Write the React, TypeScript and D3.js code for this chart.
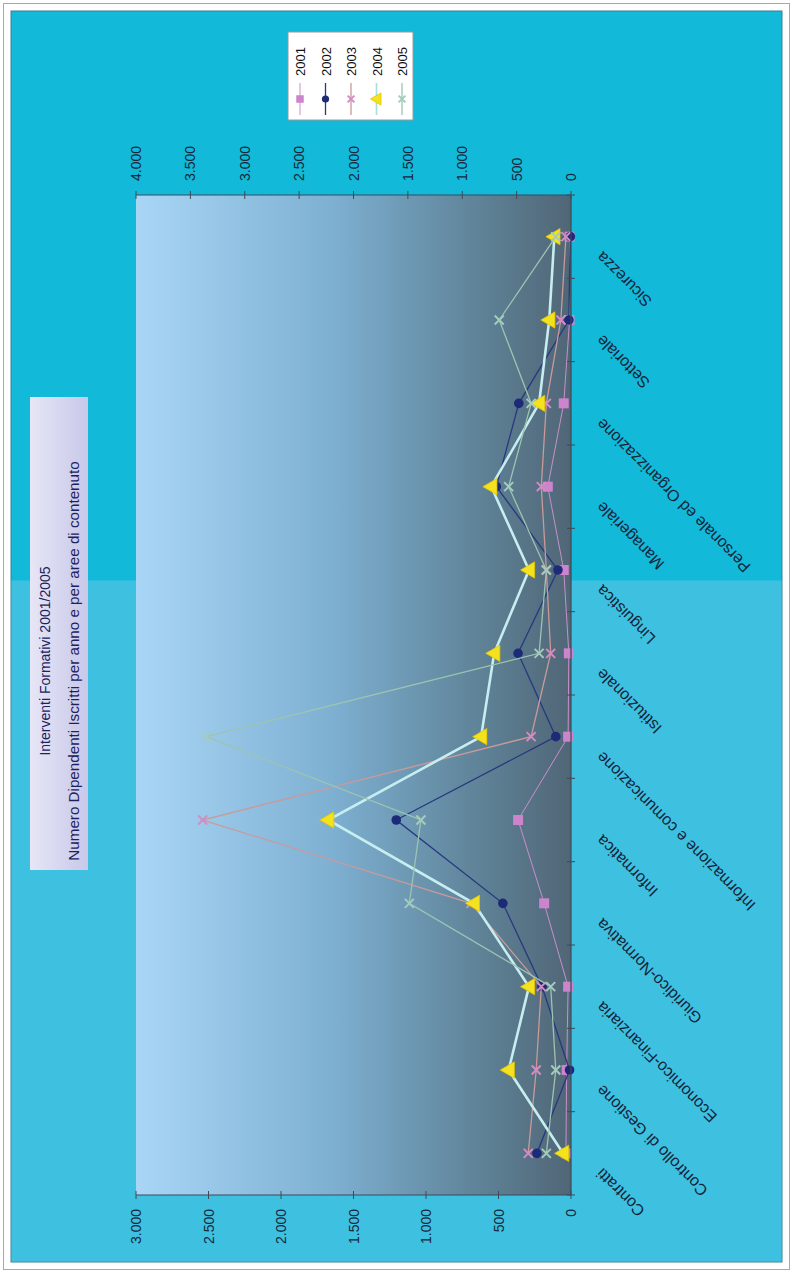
import React from "react";
import * as d3 from "d3";

// categories (original x axis) and series
const categories = [
  "Contratti",
  "Controllo di Gestione",
  "Economico-Finanziaria",
  "Giuridico-Normativa",
  "Informatica",
  "Informazione e comunicazione",
  "Istituzionale",
  "Linguistica",
  "Manageriale",
  "Personale ed Organizzazione",
  "Settoriale",
  "Sicurezza",
];
const years = ["2001", "2002", "2003", "2004", "2005"];
const v2001 = [35, 30, 20, 185, 365, 20, 15, 50, 160, 50, 10, 10];
const v2002 = [235, 10, 200, 470, 1205, 105, 365, 90, 515, 360, 15, 5];
const v2003 = [295, 240, 205, 690, 2540, 275, 140, 170, 205, 170, 70, 35];
const v2004 = [55, 430, 290, 670, 1675, 620, 530, 290, 550, 220, 150, 115];
const v2005 = [170, 105, 140, 1115, 1035, 2515, 220, 170, 430, 275, 495, 105];
const primaryTicks = [0, 500, 1000, 1500, 2000, 2500, 3000];
const secondaryTicks = [0, 500, 1000, 1500, 2000, 2500, 3000, 3500, 4000];

const title = "Interventi Formativi 2001/2005";
const subtitle = "Numero Dipendenti Iscritti per anno e per aree di contenuto";

// chart is drawn in its own frame, then turned a quarter to the left
const W = 1273;
const H = 793;
const plot = { left: 78, right: 1078, top: 136, bottom: 571 };
const font = "'Liberation Sans', Arial, sans-serif";

const itFmt = d3.formatLocale({ decimal: ",", thousands: ".", grouping: [3], currency: ["€", ""] }).format(",");

const styles: Record<string, { line: string; lw: number; fill: string; marker: string }> = {
  "2001": { line: "#c890c8", lw: 1, fill: "#cc84cc", marker: "square" },
  "2002": { line: "#27387e", lw: 1.3, fill: "#1c2a78", marker: "dot" },
  "2003": { line: "#c99a9a", lw: 1.3, fill: "#d48cc4", marker: "x" },
  "2004": { line: "#c6eef0", lw: 2.6, fill: "#f4e21e", marker: "triangle" },
  "2005": { line: "#9cc4b2", lw: 1.3, fill: "#a4ccbc", marker: "x" },
};

function Marker({ kind, cx, cy, fill, s = 1 }: { kind: string; cx: number; cy: number; fill: string; s?: number }) {
  if (kind === "square") return <rect x={cx - 5 * s} y={cy - 5 * s} width={10 * s} height={10 * s} fill={fill} />;
  if (kind === "dot") return <circle cx={cx} cy={cy} r={4.8 * s} fill={fill} />;
  if (kind === "triangle")
    return (
      <path
        d={d3.symbol(d3.symbolTriangle, 115 * s * s)() || ""}
        transform={`translate(${cx},${cy + 1})`}
        fill={fill}
        stroke="#e3c400"
        strokeWidth={0.8}
      />
    );
  const r = 4.5 * s;
  return (
    <path
      d={`M${cx - r},${cy - r}L${cx + r},${cy + r}M${cx - r},${cy + r}L${cx + r},${cy - r}`}
      stroke={fill}
      strokeWidth={2}
      fill="none"
    />
  );
}

export default function App() {
  const series = [v2001, v2002, v2003, v2004, v2005];
  const x = d3.scalePoint<string>().domain(categories).range([plot.left, plot.right]).padding(0.5);
  const y = d3.scaleLinear().domain([0, 3000]).range([plot.bottom, plot.top]);
  const y2 = d3.scaleLinear().domain([0, 4000]).range([plot.bottom, plot.top]);
  const step = x.step();
  const line = d3
    .line<number>()
    .x((_, i) => x(categories[i]) as number)
    .y((d) => y(d));

  return (
    <svg width={793} height={1273} style={{ position: "absolute", left: 0, top: 0 }} fontFamily={font}>
      <defs>
        <linearGradient id="plotGrad" x1="0" y1="0" x2="0" y2="1">
          <stop offset="0" stopColor="#a9d6f6" />
          <stop offset="0.45" stopColor="#7eb0d2" />
          <stop offset="0.75" stopColor="#62889e" />
          <stop offset="1" stopColor="#506676" />
        </linearGradient>
        <linearGradient id="titleGrad" x1="0" y1="0" x2="0" y2="1">
          <stop offset="0" stopColor="#e6e6f6" />
          <stop offset="1" stopColor="#c8c8ea" />
        </linearGradient>
      </defs>
      <rect x={0} y={0} width={793} height={1273} fill="#ffffff" />
      <rect x={3.5} y={3.5} width={786} height={1266} fill="#ffffff" stroke="#a8a8a8" />
      <g transform={`translate(0,${W}) rotate(-90)`}>
        {/* chart background, two tones */}
        <rect x={11} y={11} width={W - 22} height={H - 22} fill="#12b9d8" stroke="#3a7f94" />
        <rect x={11.5} y={11.5} width={681} height={H - 23} fill="#3ec1e0" />

        {/* plot area */}
        <rect x={plot.left} y={plot.top} width={plot.right - plot.left} height={plot.bottom - plot.top} fill="url(#plotGrad)" />

        {/* title */}
        <rect x={403} y={30} width={473} height={58} fill="url(#titleGrad)" />
        <text x={612} y={50} textAnchor="middle" fontSize={14} fill="#1c2260">{title}</text>
        <text x={612} y={79} textAnchor="middle" fontSize={15.2} fill="#1c2260">{subtitle}</text>

        {/* series */}
        {series.map((vals, si) => {
          const st = styles[years[si]];
          return (
            <g key={years[si]}>
              <path d={line(vals) || ""} fill="none" stroke={st.line} strokeWidth={st.lw} />
              {vals.map((v, i) => (
                <Marker key={i} kind={st.marker} cx={x(categories[i]) as number} cy={y(v)} fill={st.fill} />
              ))}
            </g>
          );
        })}

        {/* category axis */}
        <line x1={plot.left} x2={plot.right} y1={plot.bottom} y2={plot.bottom} stroke="#3c4a58" strokeWidth={1.2} />
        {d3.range(categories.length + 1).map((i) => (
          <line key={i} x1={plot.left + i * step} x2={plot.left + i * step} y1={plot.bottom - 4} y2={plot.bottom + 4} stroke="#3c4a58" />
        ))}
        {categories.map((c) => (
          <text
            key={c}
            transform={`translate(${(x(c) as number) - 14},${plot.bottom + 32}) rotate(-45)`}
            textAnchor="end"
            fontSize={16}
            fill="#12243a"
          >
            {c}
          </text>
        ))}

        {/* primary value axis (left) */}
        <line x1={plot.left} x2={plot.left} y1={plot.top} y2={plot.bottom} stroke="#3c4a58" strokeWidth={1.2} />
        {primaryTicks.map((t) => (
          <g key={t}>
            <line x1={plot.left - 4} x2={plot.left + 4} y1={y(t)} y2={y(t)} stroke="#3c4a58" />
            <text x={plot.left - 14} y={y(t) + 5} textAnchor="end" fontSize={14} fill="#16283c">{itFmt(t)}</text>
          </g>
        ))}

        {/* secondary value axis (right) */}
        <line x1={plot.right} x2={plot.right} y1={plot.top} y2={plot.bottom} stroke="#3c4a58" strokeWidth={1.2} />
        {secondaryTicks.map((t) => (
          <g key={t}>
            <line x1={plot.right - 4} x2={plot.right + 4} y1={y2(t)} y2={y2(t)} stroke="#3c4a58" />
            <text x={plot.right + 14} y={y2(t) + 5} textAnchor="start" fontSize={14} fill="#16283c">{itFmt(t)}</text>
          </g>
        ))}

        {/* legend */}
        <rect x={1153} y={288} width={88} height={125} fill="#ffffff" stroke="#9a9a9a" />
        {years.map((yr, i) => {
          const st = styles[yr];
          const cy = 300 + i * 25.5;
          return (
            <g key={yr}>
              <line x1={1158} x2={1190} y1={cy} y2={cy} stroke={st.line === "#c6eef0" ? "#a8dde0" : st.line} strokeWidth={Math.min(st.lw, 1.6)} />
              <Marker kind={st.marker} cx={1174} cy={cy} fill={st.fill} s={0.75} />
              <text x={1197} y={cy + 5} fontSize={13} fill="#111">{yr}</text>
            </g>
          );
        })}
      </g>
    </svg>
  );
}
